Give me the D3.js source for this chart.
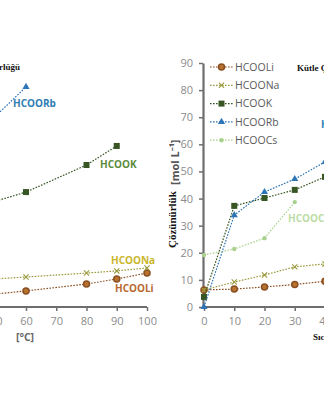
<!DOCTYPE html>
<html>
<head>
<meta charset="utf-8">
<script src="https://cdn.jsdelivr.net/npm/d3@7"></script>
<style>
  body { margin: 0; background: #fff; }
  svg { display: block; }
  .tick text { font-family: "Open Sans", sans-serif; font-size: 11px; fill: #8c8c8c; }
  .axis path, .axis line { stroke: #6e6e6e; }
</style>
</head>
<body>
<div id="chart"></div>
<script>
// temperature panel (mass solubility, g / 100 g water)
const tempC = [50, 60, 80, 90, 100];
const massLi = [53, 66, 94, 115, 139];
const massNa = [115, 123, 139, 148, 160];
const massK = [434, 471, 582, 660];        // 50..90
const massRb = [783, 902];                  // 50..60

// concentration panel (mol L-1)
const conc = [0, 10, 20, 30, 40];
const molLi = [6.3, 6.6, 7.4, 8.3, 9.5];
const molNa = [6.3, 9.2, 11.8, 14.8, 15.9];
const molK = [3.7, 37.3, 40.2, 43.2, 48];
const molRb = [0, 33.9, 42.4, 47.2, 53.5];
const molCs = [19.2, 21.4, 25.4, 38.7];
const yTicks = [0, 10, 20, 30, 40, 50, 60, 70, 80, 90];
const xTicks = [0, 10, 20, 30, 40];
const tempTicks = [50, 60, 70, 80, 90, 100];

const series = [
  { name: "HCOOLi", color: "#8a4f22", fill: "#b8732f", label: "#b8692c", shape: "circle" },
  { name: "HCOONa", color: "#9a9a3c", fill: "none", label: "#c9b62a", shape: "cross" },
  { name: "HCOOK", color: "#375623", fill: "#375623", label: "#5b8c3c", shape: "square" },
  { name: "HCOORb", color: "#2e75b6", fill: "#2e75b6", label: "#2f7db3", shape: "triangle" },
  { name: "HCOOCs", color: "#a9d18e", fill: "#a9d18e", label: "#bcdca6", shape: "dot" }
];

const W = 324, H = 400;
const svg = d3.select("#chart").append("svg")
  .attr("width", W).attr("height", H);

function marker(g, s, x, y) {
  if (s.shape === "circle") {
    g.append("circle").attr("cx", x).attr("cy", y).attr("r", 3)
      .attr("fill", s.fill).attr("stroke", s.color).attr("stroke-width", 1.5);
  } else if (s.shape === "cross") {
    g.append("path").attr("d", `M${x-2.6},${y-2.6}L${x+2.6},${y+2.6}M${x-2.6},${y+2.6}L${x+2.6},${y-2.6}`)
      .attr("stroke", s.color).attr("stroke-width", 1.1);
  } else if (s.shape === "square") {
    g.append("rect").attr("x", x - 3).attr("y", y - 3).attr("width", 6).attr("height", 6)
      .attr("fill", s.fill);
  } else if (s.shape === "triangle") {
    g.append("path").attr("d", d3.symbol(d3.symbolTriangle, 22)()).attr("transform", `translate(${x},${y})`)
      .attr("fill", s.fill);
  } else {
    g.append("circle").attr("cx", x).attr("cy", y).attr("r", 2.2).attr("fill", s.fill);
  }
}

function drawSeries(g, s, xs, ys, x, y) {
  const pts = ys.map((v, i) => [x(xs[i]), y(v)]);
  g.append("path").attr("d", d3.line()(pts))
    .attr("fill", "none").attr("stroke", s.color).attr("stroke-width", 1.2)
    .attr("stroke-dasharray", "1.6,1.4");
  pts.forEach(p => marker(g, s, p[0], p[1]));
}

// ---------- left panel: solubility vs temperature ----------
const xL = d3.scaleLinear().domain([60, 100]).range([26, 147]);
const yL = d3.scaleLinear().domain([0, 1000]).range([307, 63]);
const left = svg.append("g");

left.append("g").attr("class", "axis")
  .attr("transform", `translate(0,${yL(0)})`)
  .call(d3.axisBottom(xL).tickValues(tempTicks).tickSize(4).tickPadding(6).tickSizeOuter(0))
  .call(g => g.select(".domain").attr("d", `M${xL(40)},0H${xL(100)}`).attr("stroke-width", 2))
  .call(g => g.selectAll(".tick line").attr("stroke-width", 1.5));

drawSeries(left, series[0], tempC, massLi, xL, yL);
drawSeries(left, series[1], tempC, massNa, xL, yL);
drawSeries(left, series[2], tempC, massK, xL, yL);
drawSeries(left, series[3], tempC, massRb, xL, yL);

const lab = (g, t, x, y, c) => g.append("text").text(t).attr("x", x).attr("y", y)
  .attr("font-family", "Open Sans, sans-serif").attr("font-weight", 700)
  .attr("font-size", 10).attr("fill", c);
lab(left, "HCOORb", 13, 107, series[3].label);
lab(left, "HCOOK", 100, 168, series[2].label);
lab(left, "HCOONa", 111, 264, series[1].label);
lab(left, "HCOOLi", 115, 292, series[0].label);

left.append("text").text("[°C]").attr("x", 25).attr("y", 341)
  .attr("text-anchor", "middle").attr("font-family", "Open Sans, sans-serif")
  .attr("font-weight", 700).attr("font-size", 10.5).attr("fill", "#666");

left.append("text").text("Kütle Çözünürlüğü").attr("x", 20).attr("y", 70)
  .attr("text-anchor", "end").attr("font-family", "Liberation Serif, serif")
  .attr("font-weight", 700).attr("font-size", 9).attr("fill", "#111");

// ---------- right panel: molar solubility ----------
const xR = d3.scaleLinear().domain([0, 40]).range([204, 325]);
const yR = d3.scaleLinear().domain([0, 90]).range([307, 63]);
const right = svg.append("g");

right.append("g").attr("class", "axis")
  .attr("transform", `translate(${xR(0) - 1},0)`)
  .call(d3.axisLeft(yR).tickValues(yTicks).tickSize(4).tickPadding(6).tickSizeOuter(0))
  .call(g => g.select(".domain").attr("stroke-width", 2.2))
  .call(g => g.selectAll(".tick line").attr("stroke-width", 1.5));

right.append("g").attr("class", "axis")
  .attr("transform", `translate(0,${yR(0)})`)
  .call(d3.axisBottom(xR).tickValues(xTicks).tickSize(4).tickPadding(6).tickSizeOuter(0))
  .call(g => g.select(".domain").attr("d", `M${xR(0) - 2},0H${xR(50)}`).attr("stroke-width", 2))
  .call(g => g.selectAll(".tick line").attr("stroke-width", 1.5));

drawSeries(right, series[4], conc, molCs, xR, yR);
drawSeries(right, series[0], conc, molLi, xR, yR);
drawSeries(right, series[1], conc, molNa, xR, yR);
drawSeries(right, series[2], conc, molK, xR, yR);
drawSeries(right, series[3], conc, molRb, xR, yR);

// legend
const leg = right.append("g").attr("transform", "translate(210,67)");
series.forEach((s, i) => {
  const row = leg.append("g").attr("transform", `translate(0,${i * 18.3})`);
  row.append("path").attr("d", "M0,0H23").attr("stroke", s.color)
    .attr("stroke-width", 1.2).attr("stroke-dasharray", "1.6,1.4");
  marker(row, s, 11.5, 0);
  row.append("text").text(s.name).attr("x", 25).attr("y", 0).attr("dy", "0.36em")
    .attr("font-family", "Open Sans, sans-serif").attr("font-size", 10.5).attr("fill", "#5a5a5a");
});

lab(right, "HCOORb", 321, 128, series[3].label);
lab(right, "HCOOCs", 288, 222, series[4].label);

// axis titles
right.append("text").text("Çözünürlük")
  .attr("transform", "translate(176,248) rotate(-90)")
  .attr("font-family", "Liberation Serif, serif").attr("font-weight", 700)
  .attr("font-size", 11).attr("fill", "#111");
right.append("text").text("[mol L⁻¹]")
  .attr("transform", "translate(179,185) rotate(-90)")
  .attr("font-family", "Open Sans, sans-serif").attr("font-weight", 700)
  .attr("font-size", 11).attr("fill", "#555");

right.append("text").text("Kütle Çözünürlüğü").attr("x", 297).attr("y", 71)
  .attr("font-family", "Liberation Serif, serif").attr("font-weight", 700)
  .attr("font-size", 9).attr("fill", "#111");
right.append("text").text("Sıcaklık").attr("x", 313).attr("y", 340)
  .attr("font-family", "Liberation Serif, serif").attr("font-weight", 700)
  .attr("font-size", 9).attr("fill", "#111");
</script>
</body>
</html>
